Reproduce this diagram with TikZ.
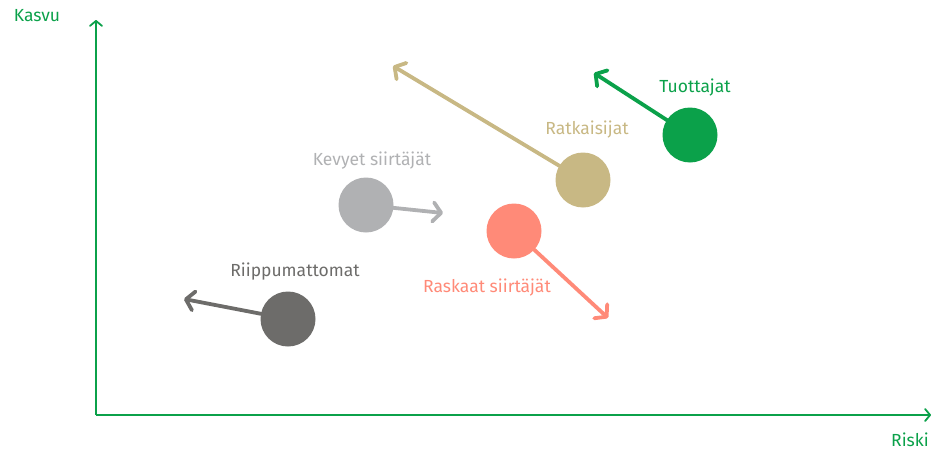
\documentclass[tikz,border=0pt]{standalone}
\usepackage{fontspec}
\setmainfont{Fira Sans}
\usetikzlibrary{arrows.meta}
\definecolor{axgreen}{HTML}{0BA14A}
\definecolor{tgreen}{HTML}{0BA14A}
\definecolor{rgold}{HTML}{C8B884}
\definecolor{lgray}{HTML}{B0B1B3}
\definecolor{salmon}{HTML}{FF8A78}
\definecolor{dgray}{HTML}{6D6C6A}
\tikzset{
  axis/.style={draw=axgreen, line width=1.8pt, -{Straight Barb[length=5pt,width=12pt,round,line width=1.8pt]}},
  move/.style={line width=3.8pt, line cap=round, -{Straight Barb[length=8pt,width=19pt,round,line width=3.8pt]}},
  dot/.style={circle, minimum size=55pt, inner sep=0pt, fill=#1},
  lab/.style={font=\fontsize{17.5}{20}\selectfont, text=#1, inner sep=0pt, anchor=center},
}
\begin{document}
\begin{tikzpicture}[x=1pt,y=-1pt]
\useasboundingbox (0,0) rectangle (941,452);
\coordinate (O) at (96,415);
\coordinate (Ytop) at (96,20);
\coordinate (Xend) at (931,415);
\draw[axis] (O) -- (Ytop);
\draw[axis] (O) -- (Xend);
\node[lab=axgreen] (kasvu) at (37,16) {Kasvu};
\node[lab=axgreen] (riski) at (910,440) {Riski};

\coordinate (tC) at (690,135);
\coordinate (rC) at (583,180);
\coordinate (kC) at (366,205);
\coordinate (sC) at (514,231);
\coordinate (pC) at (288,319);

\coordinate (tE) at (594,73);
\coordinate (rE) at (393,66);
\coordinate (kE) at (443,213);
\coordinate (sE) at (608,318);
\coordinate (pE) at (184,299);

\draw[move, draw=tgreen] (tC) -- (tE);
\draw[move, draw=rgold] (rC) -- (rE);
\draw[move, draw=lgray] (kC) -- (kE);
\draw[move, draw=salmon] (sC) -- (sE);
\draw[move, draw=dgray] (pC) -- (pE);

\node[dot=tgreen] (t) at (tC) {};
\node[dot=rgold] (r) at (rC) {};
\node[dot=lgray] (k) at (kC) {};
\node[dot=salmon] (s) at (sC) {};
\node[dot=dgray] (p) at (pC) {};

\node[lab=tgreen] (tl) at (695,88) {Tuottajat};
\node[lab=rgold] (rl) at (587,130) {Ratkaisijat};
\node[lab=lgray] (kl) at (372,161) {Kevyet siirtäjät};
\node[lab=salmon] (sl) at (487,288) {Raskaat siirtäjät};
\node[lab=dgray] (pl) at (295,272) {Riippumattomat};
\end{tikzpicture}
\end{document}
